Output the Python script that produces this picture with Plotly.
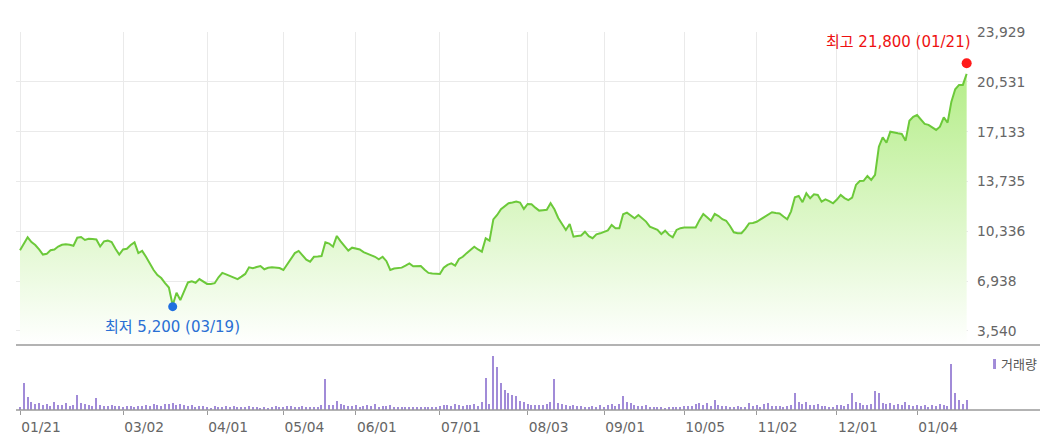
import plotly.graph_objects as go

# ---- data -------------------------------------------------------------
# trading-day index 0..248 (2020-01-21 .. 2021-01-21)
tick_index = [0, 27, 49, 69, 88, 110, 133, 153, 174, 193, 214, 235]
tick_labels = ["01/21", "03/02", "04/01", "05/04", "06/01", "07/01",
               "08/03", "09/01", "10/05", "11/02", "12/01", "01/04"]

close = [
    9050, 9500, 9930, 9600, 9400, 9100, 8750, 8800, 9050, 9100,
    9300, 9420, 9450, 9420, 9350, 9900, 9950, 9750, 9830, 9820,
    9780, 9300, 9650, 9700, 9600, 9150, 8750, 9100, 9150, 9400,
    9580, 8850, 9000, 8600, 8100, 7700, 7350, 7150, 6800, 6500,
    5300, 6150, 5650, 6300, 6850, 6930, 6830, 7080, 6900, 6750,
    6750, 6800, 7200, 7500, 7400, 7300, 7150, 7080, 7250, 7430,
    7880, 7820, 7900, 7970, 7750, 7850, 7880, 7850, 7830, 7700,
    8100, 8500, 8850, 9000, 8700, 8400, 8270, 8600, 8620, 8650,
    9590, 9500, 9290, 10020, 9650, 9300, 9020, 9220, 9180, 9100,
    8920, 8800, 8730, 8600, 8430, 8600, 8300, 7700, 7800, 7830,
    7860, 8000, 8150, 7950, 7950, 7970, 7720, 7500, 7460, 7430,
    7420, 7850, 8050, 8150, 8000, 8450, 8600, 8850, 9050, 9290,
    9100, 8950, 9860, 9700, 11150, 11450, 11840, 12050, 12250, 12300,
    12360, 12300, 11860, 12200, 12180, 11950, 11750, 11780, 11800, 12250,
    11840, 11250, 10800, 10430, 10840, 9970, 10020, 10050, 10310, 10000,
    9870, 10130, 10200, 10310, 10400, 10770, 10550, 10540, 11500, 11610,
    11450, 11230, 11450, 11200, 11000, 10650, 10550, 10430, 10140, 10380,
    10100, 9930, 10430, 10550, 10590, 10600, 10580, 10600, 11100, 11520,
    11300, 11060, 11520, 11380, 11160, 11060, 10700, 10270, 10200, 10210,
    10500, 10880, 10900, 10990, 11150, 11330, 11500, 11640, 11580, 11560,
    11350, 11160, 11700, 12660, 12750, 12320, 12930, 12590, 12860, 12820,
    12360, 12520, 12400, 12250, 12500, 12820, 12600, 12470, 12630, 13500,
    13770, 13780, 14110, 13840, 14180, 16110, 16750, 16380, 17130, 17050,
    17020, 16980, 16520, 17880, 18150, 18270, 18000, 17660, 17600, 17400,
    17250, 17470, 18110, 17750, 19180, 20020, 20320, 20320, 21070,
]

volume_10k = [
    3, 27, 13, 8, 6, 7, 5, 6, 4, 8,
    5, 5, 7, 4, 5, 15, 7, 6, 5, 4,
    12, 5, 4, 4, 5, 4, 4, 3, 4, 4,
    3, 4, 4, 5, 4, 6, 5, 4, 6, 6,
    7, 5, 6, 5, 4, 5, 3, 4, 4, 3,
    2, 4, 3, 3, 4, 3, 4, 3, 3, 3,
    4, 3, 3, 2, 3, 2, 3, 4, 3, 3,
    4, 4, 3, 3, 4, 3, 3, 3, 3, 5,
    31, 5, 5, 9, 6, 5, 4, 4, 5, 3,
    4, 5, 4, 6, 3, 4, 4, 5, 3, 3,
    3, 3, 3, 3, 3, 3, 3, 3, 3, 3,
    4, 5, 5, 4, 6, 5, 4, 5, 5, 6,
    4, 8, 32, 6, 54, 43, 27, 20, 17, 15,
    14, 9, 8, 6, 5, 5, 5, 5, 6, 8,
    31, 7, 6, 5, 4, 5, 4, 4, 3, 3,
    4, 3, 5, 3, 5, 6, 4, 6, 14, 8,
    7, 5, 4, 4, 5, 3, 3, 3, 3, 2,
    3, 3, 3, 3, 4, 4, 4, 6, 7, 5,
    7, 4, 10, 5, 4, 4, 3, 3, 4, 3,
    3, 7, 4, 5, 3, 6, 7, 4, 4, 4,
    3, 4, 5, 17, 8, 6, 8, 5, 5, 6,
    4, 4, 3, 3, 5, 5, 4, 6, 17, 8,
    7, 5, 5, 6, 19, 17, 7, 6, 7, 5,
    6, 5, 8, 5, 4, 5, 4, 5, 3, 5,
    4, 6, 5, 4, 46, 17, 10, 6, 10,
]

y_ticks = [3540, 6938, 10336, 13735, 17133, 20531, 23929]
y_tick_labels = ["3,540", "6,938", "10,336", "13,735", "17,133", "20,531", "23,929"]

high_index, high_value, high_label = 248, 21800, "최고 21,800 (01/21)"
low_index, low_value, low_label = 40, 5200, "최저 5,200 (03/19)"
volume_name = "거래량"

idx = list(range(len(close)))

# ---- styling ----------------------------------------------------------
LINE = "#6cc93a"
VOL = "#a18bd8"
GRID = "#eaeaea"
AXIS = "#9a9a9a"
NUM_FONT = "DejaVu Sans, Noto Sans CJK KR"
x_range = [-1.05, 248.35]
y_range = [2585, 23929]

fig = go.Figure()
fig.add_trace(go.Scatter(
    x=idx, y=close, mode="lines",
    line=dict(color=LINE, width=2),
    fill="tozeroy",
    fillgradient=dict(type="vertical",
                      colorscale=[[0, "#ffffff"], [1, "#b3ed86"]],
                      start=y_range[0], stop=21500),
    xaxis="x", yaxis="y", hoverinfo="skip", showlegend=False,
))
fig.add_trace(go.Scatter(
    x=[high_index], y=[high_value], mode="markers", cliponaxis=False,
    marker=dict(color="#ff1a1a", size=10),
    xaxis="x", yaxis="y", showlegend=False,
))
fig.add_trace(go.Scatter(
    x=[low_index], y=[low_value], mode="markers", cliponaxis=False,
    marker=dict(color="#1f6fe0", size=9),
    xaxis="x", yaxis="y", showlegend=False,
))
fig.add_trace(go.Bar(
    x=idx, y=volume_10k, width=0.32,
    marker=dict(color=VOL, line=dict(width=0)),
    xaxis="x2", yaxis="y2", showlegend=False,
))

# the page body has an 8px margin, so the figure is 8px smaller on each axis
fig.update_layout(
    width=1040, height=434,
    margin=dict(l=8, r=80, t=24, b=32, autoexpand=False),
    paper_bgcolor="white", plot_bgcolor="white",
    bargap=0,
    xaxis=dict(domain=[0, 1], anchor="y", range=x_range, automargin=False,
               tickvals=tick_index, showticklabels=False, ticks="",
               showgrid=True, gridcolor=GRID, gridwidth=1,
               zeroline=False, showline=False),
    yaxis=dict(domain=[0.172, 1], anchor="x", range=y_range, side="right",
               automargin=False,
               tickvals=y_ticks, ticktext=y_tick_labels, ticks="",
               showgrid=True, gridcolor=GRID, gridwidth=1,
               zeroline=False, showline=False, ticklabelstandoff=8,
               tickfont=dict(family=NUM_FONT, size=13.8, color="#666666")),
    xaxis2=dict(domain=[0, 1], anchor="y2", range=x_range, automargin=False,
                tickvals=tick_index, ticktext=tick_labels,
                ticks="outside", ticklen=4, tickcolor=AXIS, tickwidth=1,
                ticklabelshift=21,
                showgrid=False, zeroline=False, showline=False,
                tickfont=dict(family=NUM_FONT, size=13.8, color="#666666")),
    yaxis2=dict(domain=[0, 0.1587], anchor="x2", range=[0, 60],
                automargin=False, visible=False),
    shapes=[
        dict(type="line", xref="paper", yref="y domain", x0=0, x1=1.084,
             y0=0, y1=0, line=dict(color=AXIS, width=1.5)),
        dict(type="line", xref="paper", yref="y2 domain", x0=0, x1=1.084,
             y0=0, y1=0, line=dict(color=AXIS, width=1.5)),
        dict(type="rect", xref="paper", yref="paper",
             x0=1.0263, x1=1.0294, y0=0.1085, y1=0.135,
             fillcolor=VOL, line=dict(width=0)),
    ],
    annotations=[
        dict(x=high_index, y=high_value, xref="x", yref="y",
             text=high_label, showarrow=False, xanchor="right",
             yanchor="middle", xshift=6, yshift=21,
             font=dict(family=NUM_FONT, size=15, color="#ee1111")),
        dict(x=low_index, y=low_value, xref="x", yref="y",
             text=low_label, showarrow=False, xanchor="center",
             yanchor="middle", yshift=-20,
             font=dict(family=NUM_FONT, size=15, color="#2a6fd4")),
        dict(x=1.033, y=0.1215, xref="paper", yref="paper",
             text=volume_name, showarrow=False, xanchor="left",
             yanchor="middle",
             font=dict(family=NUM_FONT, size=13, color="#555555")),
    ],
)

fig.write_html("out.html")
